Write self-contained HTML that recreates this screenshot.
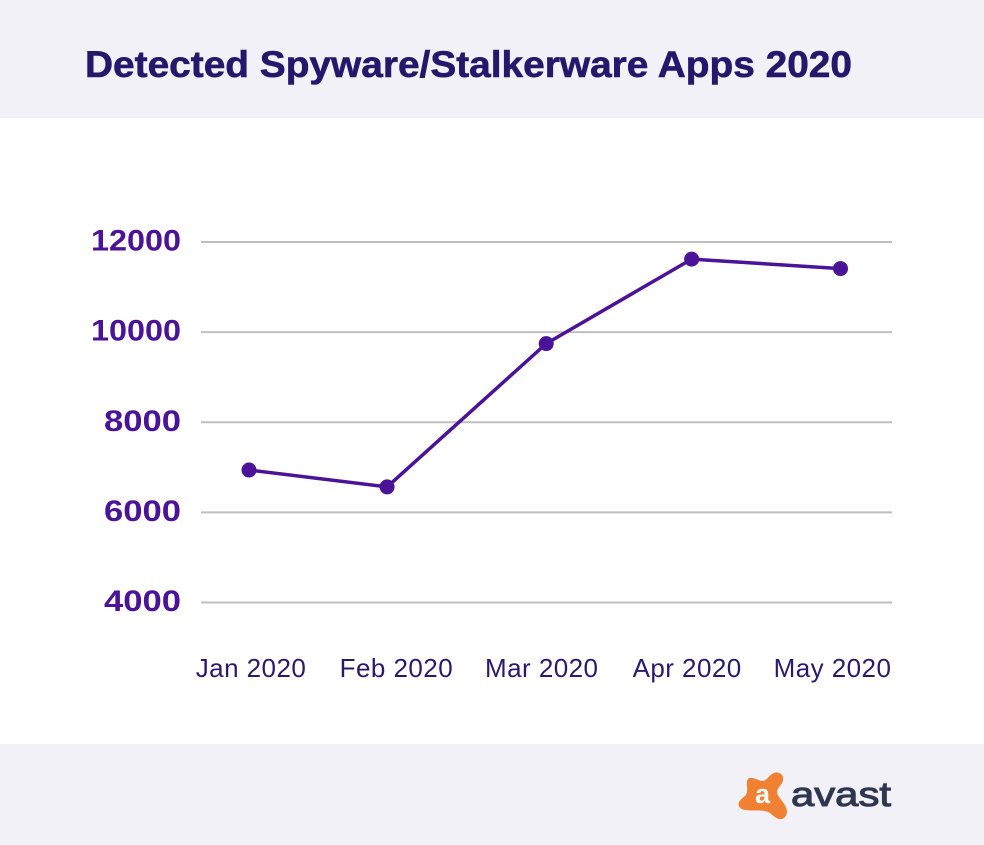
<!DOCTYPE html>
<html lang="en">
<head>
<meta charset="utf-8">
<title>Detected Spyware/Stalkerware Apps 2020</title>
<style>
html,body{margin:0;padding:0;background:#fff;width:984px;height:845px;overflow:hidden}
svg{display:block}
text{font-family:"Liberation Sans",sans-serif}
</style>
</head>
<body>
<svg id="chart" xmlns="http://www.w3.org/2000/svg" width="984" height="845" viewBox="0 0 984 845">
  <rect x="0" y="0" width="984" height="845" fill="#ffffff"/>
  <rect x="0" y="0" width="984" height="118" fill="#f1f1f7"/>
  <rect x="0" y="744" width="984" height="101" fill="#f1f1f7"/>
  <text x="85" y="77" font-size="37" font-weight="700" fill="#25186b" stroke="#25186b" stroke-width="0.6" textLength="767" lengthAdjust="spacingAndGlyphs">Detected Spyware/Stalkerware Apps 2020</text>
  <g id="grid"></g>
  <g id="yaxis"></g>
  <g id="xaxis"></g>
  <g id="series"></g>
  <g>
    <path fill="#f08132" d="M749 778C754 777 759 781 763 781C767 781 770 773 776 772.5C782 772 785 778 782 783C780 786 777 789 777 792C777 797 786 803 787 811C787 817 783 820 779 819C774 818 771 812 765 811C759 810 752 811 746 810C741 810 737 806 739 802C741 798 746 797 747 792C748 788 745 781 749 778Z"/>
    <text x="762.5" y="803" font-size="27" font-weight="700" fill="#ffffff" text-anchor="middle">a</text>
    <text x="791" y="806" font-size="34" font-weight="400" fill="#2f3650" stroke="#2f3650" stroke-width="1" textLength="100" lengthAdjust="spacingAndGlyphs">avast</text>
  </g>
</svg>
<script>
var categories = ['Jan 2020', 'Feb 2020', 'Mar 2020', 'Apr 2020', 'May 2020'];
var sampleDays = [0, 28.2, 60.7, 90.4, 120.8];
var detections = [6940, 6565, 9745, 11620, 11410];
var yTicks = [12000, 10000, 8000, 6000, 4000];

var NS = 'http://www.w3.org/2000/svg';
var plotLeft = 201, plotRight = 892;
var yMin = 4000, yMax = 12000, yBottom = 602.5, yTop = 242;
var dayLeft = 249, dayRight = 840.5;
var labelFirst = 251, labelLast = 832.5;

function yScale(v) {
  return yBottom - (v - yMin) * (yBottom - yTop) / (yMax - yMin);
}
function xScale(d) {
  var first = sampleDays[0], last = sampleDays[sampleDays.length - 1];
  return dayLeft + (d - first) * (dayRight - dayLeft) / (last - first);
}
function labelX(i) {
  return labelFirst + i * (labelLast - labelFirst) / (categories.length - 1);
}
function make(tag, attrs, parent) {
  var el = document.createElementNS(NS, tag);
  for (var k in attrs) el.setAttribute(k, attrs[k]);
  parent.appendChild(el);
  return el;
}

var grid = document.getElementById('grid');
var yaxis = document.getElementById('yaxis');
var xaxis = document.getElementById('xaxis');
var series = document.getElementById('series');

yTicks.forEach(function (t) {
  var line = make('line', {x1: plotLeft, x2: plotRight, y1: yScale(t), y2: yScale(t), stroke: '#bfbfc1', 'stroke-width': 2}, grid);
  
  
  var s = String(t);
  var label = make('text', {x: 181, y: yScale(t) + 8.5, 'font-size': 30, 'font-weight': 700, fill: '#4b1398', 'text-anchor': 'end', textLength: 13 * s.length + 25, lengthAdjust: 'spacingAndGlyphs'}, yaxis);
  
  
  label.textContent = s;
});

categories.forEach(function (c, i) {
  var label = make('text', {x: labelX(i), y: 677, 'font-size': 26, 'letter-spacing': 0.45, fill: '#2a1a6e', 'text-anchor': 'middle'}, xaxis);
  
  
  label.textContent = c;
});

var pts = detections.map(function (v, i) {
  return xScale(sampleDays[i]).toFixed(2) + ',' + yScale(v).toFixed(2);
}).join(' ');
var path = make('polyline', {points: pts, fill: 'none', stroke: '#4b1398', 'stroke-width': 3.5, 'stroke-linejoin': 'round'}, series);



detections.forEach(function (v, i) {
  var dot = make('circle', {cx: xScale(sampleDays[i]), cy: yScale(v), r: 7.5, fill: '#4b1398'}, series);
  
  
});
</script>
</body>
</html>
